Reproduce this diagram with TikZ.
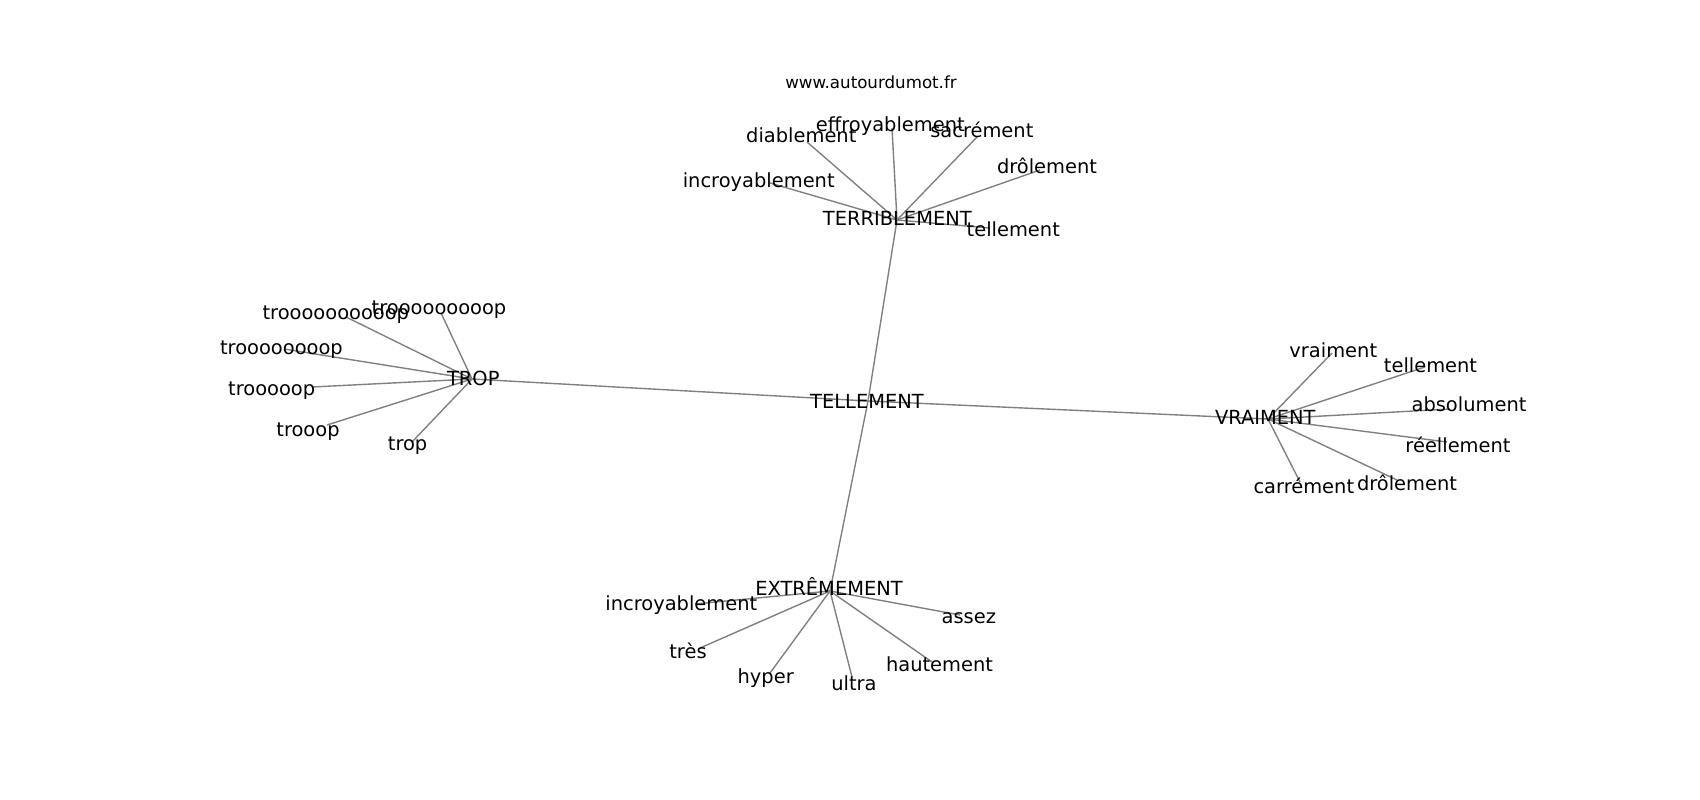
\documentclass[tikz,border=0pt]{standalone}
\usepackage{fontspec}
\setmainfont{DejaVu Sans}
\ExplSyntaxOn
\cs_new:Npn \myOs #1 { \prg_replicate:nn {#1} {o} }
\ExplSyntaxOff
\begin{document}
\begin{tikzpicture}[x=1bp,y=-1bp,
  lbl/.style={inner sep=0pt,anchor=base,font=\fontsize{19.44bp}{23bp}\selectfont},
  ttl/.style={inner sep=0pt,anchor=base,font=\fontsize{16.67bp}{20bp}\selectfont},
  edge/.style={draw={rgb,255:red,128;green,128;blue,128},line width=1.39bp}]
\useasboundingbox[fill=white] (0,0) rectangle (1700,800);
% title
\node[ttl] (title) at (871,88.3) {www.autourdumot.fr};
% hub positions
\coordinate (pTel) at (868,401);
\coordinate (pTer) at (897,220);
\coordinate (pTrop) at (472,379);
\coordinate (pVra) at (1268,419);
\coordinate (pExt) at (830,591);
% leaf edge ends
\coordinate (eEff) at (892,128);
\coordinate (eDia) at (807,142);
\coordinate (eSac) at (977,137);
\coordinate (eDro) at (1040,170);
\coordinate (eInc) at (770,183);
\coordinate (eTelA) at (990,228);
\coordinate (eT10) at (346,317);
\coordinate (eT9) at (441,313);
\coordinate (eT8) at (284,349);
\coordinate (eT5) at (312,387);
\coordinate (eT3) at (327,425);
\coordinate (eT1) at (412,442);
\coordinate (eVrai) at (1332,353);
\coordinate (eTelB) at (1425,367);
\coordinate (eAbs) at (1450,409);
\coordinate (eRee) at (1447,442);
\coordinate (eDroB) at (1397,480);
\coordinate (eCar) at (1300,482);
\coordinate (eIncB) at (695,604);
\coordinate (eTres) at (700,648);
\coordinate (eHyp) at (770,673);
\coordinate (eUlt) at (852,677);
\coordinate (eHau) at (932,662);
\coordinate (eAss) at (960,615);
% edges
\draw[edge] (pTrop) -- (pTel);
\draw[edge] (pTel) -- (pVra);
\draw[edge] (pTer) -- (pTel);
\draw[edge] (pTel) -- (pExt);
\foreach \e in {eEff,eDia,eSac,eDro,eInc,eTelA}{\draw[edge] (pTer) -- (\e);}
\foreach \e in {eT10,eT9,eT8,eT5,eT3,eT1}{\draw[edge] (pTrop) -- (\e);}
\foreach \e in {eVrai,eTelB,eAbs,eRee,eDroB,eCar}{\draw[edge] (pVra) -- (\e);}
\foreach \e in {eIncB,eTres,eHyp,eUlt,eHau,eAss}{\draw[edge] (pExt) -- (\e);}
% labels
\node[lbl] (tel) at (867,408.3) {TELLEMENT};
\node[lbl] (ter) at (897.3,225.7) {TERRIBLEMENT};
\node[lbl] (eff) at (890.3,131.7) {effroyablement};
\node[lbl] (dia) at (801.3,142.3) {diablement};
\node[lbl] (sac) at (981.8,137.3) {sacrément};
\node[lbl] (dro) at (1047,173) {drôlement};
\node[lbl] (inc) at (758.7,187.3) {incroyablement};
\node[lbl] (tela) at (1013.3,236.7) {tellement};
\node[lbl] (trop) at (473.3,385) {TROP};
\node[lbl] (t10) at (335.8,319) {tr\myOs{10}p};
\node[lbl] (t9) at (439,314.5) {tr\myOs{9}p};
\node[lbl] (t8) at (281.4,354) {tr\myOs{8}p};
\node[lbl] (t5) at (271.7,395) {tr\myOs{5}p};
\node[lbl] (t3) at (308,436.5) {tr\myOs{3}p};
\node[lbl] (t1) at (407.6,450.5) {trop};
\node[lbl] (vra) at (1265.3,424) {VRAIMENT};
\node[lbl] (vrai) at (1333.3,357.3) {vraiment};
\node[lbl] (telb) at (1430.5,372) {tellement};
\node[lbl] (abs) at (1469,411.7) {absolument};
\node[lbl] (ree) at (1458,452.7) {réellement};
\node[lbl] (drob) at (1407,490) {drôlement};
\node[lbl] (car) at (1303.8,493.3) {carrément};
\node[lbl] (ext) at (829,595) {EXTRÊMEMENT};
\node[lbl] (incb) at (681.3,610) {incroyablement};
\node[lbl] (tres) at (688,658.3) {très};
\node[lbl] (hyp) at (765.7,683.3) {hyper};
\node[lbl] (ult) at (854,690) {ultra};
\node[lbl] (hau) at (939.5,671.7) {hautement};
\node[lbl] (ass) at (968.8,623.3) {assez};
\end{tikzpicture}
\end{document}
